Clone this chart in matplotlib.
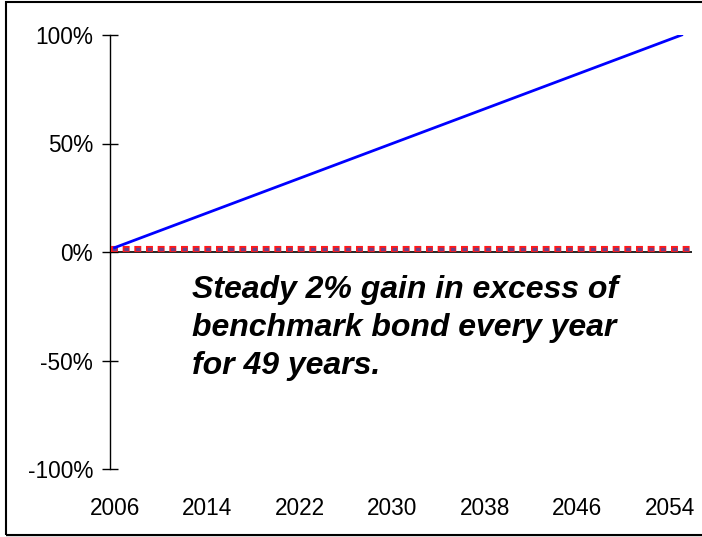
import matplotlib
matplotlib.use("Agg")
import matplotlib.pyplot as plt
from matplotlib.patches import Rectangle

plt.rcParams['font.family'] = ['Liberation Sans', 'DejaVu Sans']
plt.rcParams['lines.scale_dashes'] = False

years = [2006, 2007, 2008, 2009, 2010, 2011, 2012, 2013, 2014, 2015,
         2016, 2017, 2018, 2019, 2020, 2021, 2022, 2023, 2024, 2025,
         2026, 2027, 2028, 2029, 2030, 2031, 2032, 2033, 2034, 2035,
         2036, 2037, 2038, 2039, 2040, 2041, 2042, 2043, 2044, 2045,
         2046, 2047, 2048, 2049, 2050, 2051, 2052, 2053, 2054, 2055]
cumulative_excess = [2, 4, 6, 8, 10, 12, 14, 16, 18, 20,
                     22, 24, 26, 28, 30, 32, 34, 36, 38, 40,
                     42, 44, 46, 48, 50, 52, 54, 56, 58, 60,
                     62, 64, 66, 68, 70, 72, 74, 76, 78, 80,
                     82, 84, 86, 88, 90, 92, 94, 96, 98, 100]
benchmark_years = [2005.7, 2055.7]
benchmark = [1.6, 1.6]

xticks = [2006, 2014, 2022, 2030, 2038, 2046, 2054]
yticks = [-100, -50, 0, 50, 100]
ytick_labels = ['-100%', '-50%', '0%', '50%', '100%']
annotation = "Steady 2% gain in excess of\nbenchmark bond every year\nfor 49 years."

W, H = 702, 537
fig = plt.figure(figsize=(W / 100, H / 100), dpi=100)
left, right, top, bottom = 110, 692, 35, 469
ax = fig.add_axes([left / W, 1 - bottom / H, (right - left) / W, (bottom - top) / H])
ax.set_xlim(2005.6, 2055.9)
ax.set_ylim(-100, 100)

ax.plot(benchmark_years, benchmark, color='#FF1A1A', lw=4.4,
        linestyle=(0, (5.0, 3.4)), dash_capstyle='butt', zorder=3)
ax.plot(benchmark_years, benchmark, color='#6B3F86', lw=2.4,
        linestyle=(-0.9, (3.2, 5.2)), dash_capstyle='butt', zorder=4)
ax.plot(years, cumulative_excess, color='#0000FF', lw=2.0, zorder=5)

for s in ['top', 'right', 'bottom']:
    ax.spines[s].set_visible(False)
ax.spines['left'].set_color('black')
ax.spines['left'].set_linewidth(1.0)
ax.axhline(0, color='black', lw=1.2, zorder=2)

ax.set_yticks(yticks)
ax.set_yticklabels(ytick_labels, fontsize=16.3)
ax.tick_params(axis='y', direction='inout', length=11.5, width=1.0, pad=6.5)
ax.set_xticks(xticks)
ax.set_xticklabels([str(x) for x in xticks], fontsize=16.3)
ax.tick_params(axis='x', length=0, pad=20)

fig.text(192 / W, 1 - 328 / H, annotation, fontsize=23, fontweight='bold', fontstyle='italic',
         ha='left', va='center', linespacing=1.34)

# figure frame
fig.patches.append(Rectangle((6 / W, 1 - 535 / H), 1.2, (535 - 2) / H, transform=fig.transFigure,
                             fill=False, edgecolor='black', lw=1.5))
fig.patches.append(Rectangle((6 / W, 0), 1, 1.5 / H, transform=fig.transFigure,
                             facecolor='#D9D9D9', edgecolor='none'))

fig.savefig('out.png', dpi=100)
